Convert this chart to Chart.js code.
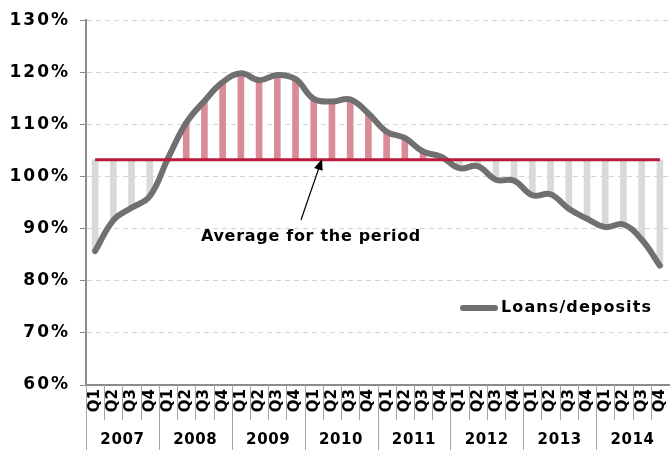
<!DOCTYPE html>
<html>
<head>
<meta charset="utf-8">
<script src="https://cdn.jsdelivr.net/npm/chart.js@4"></script>
<style>
  body { margin: 0; background: #fff; }
</style>
</head>
<body>
<canvas id="ratioChart" width="670" height="450"></canvas>
<script>
const years = ['2007', '2008', '2009', '2010', '2011', '2012', '2013', '2014'];
const quarters = ['Q1', 'Q2', 'Q3', 'Q4'];
const loansDeposits = [
    85.7, 91.6, 94.0, 96.2,
    103.5, 110.3, 114.5, 118.1,
    119.8, 118.5, 119.5, 118.7,
    114.9, 114.4, 114.8, 112.1,
    108.6, 107.4, 104.8, 103.8,
    101.6, 102.0, 99.4, 99.2,
    96.4, 96.6, 93.8, 91.9,
    90.3, 90.8, 87.9, 82.9
];
const average = 103.2;

const labels = [];
years.forEach(() => quarters.forEach(q => labels.push(q)));

const font = "'DejaVu Sans', Verdana, sans-serif";
const lineGray = '#707070';
const avgRed = '#b8193c';

// wider letters for the y labels (drawn before the datasets), normal for the rest
const spacing = {
    id: 'spacing',
    beforeDraw(chart) { chart.ctx.letterSpacing = '2px'; },
    beforeDatasetsDraw(chart) { chart.ctx.letterSpacing = '0px'; }
};

const extras = {
    id: 'extras',
    afterDraw(chart) {
        const c = chart.ctx;
        const x = chart.scales.x;
        const area = chart.chartArea;
        const step = (area.right - area.left) / labels.length;

        // category separators under the axis
        c.save();
        c.strokeStyle = '#a6a6a6';
        c.lineWidth = 1;
        for (let i = 0; i < labels.length; i++) {
            const px = Math.round(area.left + i * step) + 0.5;
            c.beginPath();
            c.moveTo(px, area.bottom);
            c.lineTo(px, i % 4 == 0 ? 450 : 420);
            c.stroke();
        }

        // year labels
        c.fillStyle = '#000';
        c.letterSpacing = '0.6px';
        c.font = 'bold 15px ' + font;
        c.textAlign = 'center';
        c.textBaseline = 'middle';
        years.forEach((y, i) => {
            const mid = (x.getPixelForValue(i * 4) + x.getPixelForValue(i * 4 + 3)) / 2;
            c.fillText(y, mid, 440);
        });

        // annotation
        c.letterSpacing = '0.7px';
        c.font = 'bold 16px ' + font;
        c.fillText('Average for the period', 311, 237);
        const tipX = 322, tipY = 159, fromX = 301, fromY = 220;
        const ang = Math.atan2(tipY - fromY, tipX - fromX);
        c.strokeStyle = '#000';
        c.lineWidth = 1.2;
        c.beginPath();
        c.moveTo(fromX, fromY);
        c.lineTo(tipX - 8 * Math.cos(ang), tipY - 8 * Math.sin(ang));
        c.stroke();
        c.beginPath();
        c.moveTo(tipX, tipY);
        c.lineTo(tipX - 11 * Math.cos(ang) + 4.5 * Math.sin(ang), tipY - 11 * Math.sin(ang) - 4.5 * Math.cos(ang));
        c.lineTo(tipX - 11 * Math.cos(ang) - 4.5 * Math.sin(ang), tipY - 11 * Math.sin(ang) + 4.5 * Math.cos(ang));
        c.closePath();
        c.fillStyle = '#000';
        c.fill();

        // legend
        c.strokeStyle = lineGray;
        c.lineWidth = 6;
        c.lineCap = 'round';
        c.beginPath();
        c.moveTo(463, 308);
        c.lineTo(495, 308);
        c.stroke();
        c.textAlign = 'left';
        c.letterSpacing = '1.1px';
        c.font = 'bold 16px ' + font;
        c.fillText('Loans/deposits', 501, 308);
        c.restore();
    }
};

new Chart(document.getElementById('ratioChart'), {
    type: 'bar',
    data: {
        labels: labels,
        datasets: [
            {
                type: 'line',
                label: 'Average for the period',
                data: labels.map(() => average),
                borderColor: avgRed,
                borderWidth: 3,
                pointRadius: 0,
                order: 0
            },
            {
                type: 'line',
                label: 'Loans/deposits',
                data: loansDeposits,
                borderColor: lineGray,
                borderWidth: 6,
                borderCapStyle: 'round',
                borderJoinStyle: 'round',
                tension: 0.4,
                pointRadius: 0,
                order: 1
            },
            {
                label: 'gap',
                data: loansDeposits.map(v => [average, v]),
                backgroundColor: loansDeposits.map(v => v >= average ? '#da8b98' : '#d9d9d9'),
                barThickness: 6,
                order: 2
            }
        ]
    },
    options: {
        responsive: false,
        animation: false,
        layout: { padding: { top: 17, right: 1, left: 0, bottom: 0 } },
        plugins: {
            legend: { display: false },
            tooltip: { enabled: false }
        },
        scales: {
            x: {
                grid: { display: false, drawTicks: false },
                border: { display: true, color: '#8c8c8c', width: 2, z: 1 },
                ticks: {
                    z: 1,
                    color: '#000',
                    font: { family: font, weight: 'bold', size: 15 },
                    minRotation: 90,
                    maxRotation: 90,
                    padding: 4,
                    autoSkip: false
                },
                afterFit(scale) {
                    scale.height = 65;
                    scale.paddingLeft = 0;
                    scale.paddingRight = 0;
                }
            },
            y: {
                min: 60,
                max: 130,
                border: { display: true, color: '#8c8c8c', width: 2, dash: [5, 4] },
                grid: {
                    color: '#d4d4d4',
                    lineWidth: 1,
                    tickLength: 6,
                    tickColor: '#8c8c8c',
                    tickBorderDash: []
                },
                ticks: {
                    stepSize: 10,
                    color: '#000',
                    padding: 10,
                    font: { family: font, weight: 'bold', size: 17 },
                    callback: v => v + '%'
                },
                afterFit(scale) { scale.width = 86; }
            }
        }
    },
    plugins: [spacing, extras]
});
</script>
</body>
</html>
